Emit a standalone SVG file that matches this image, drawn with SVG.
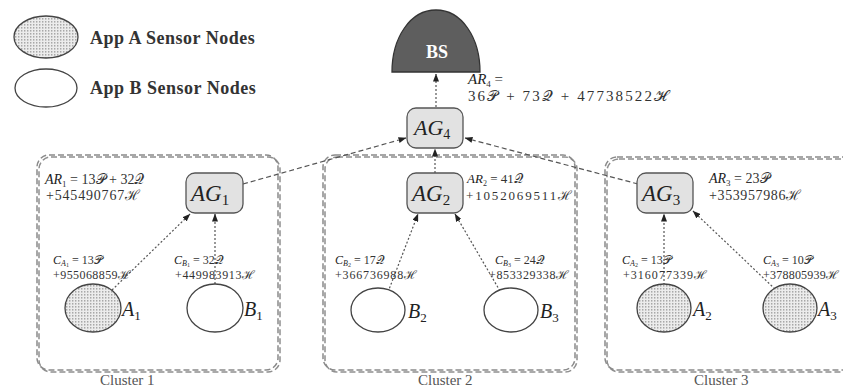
<svg xmlns="http://www.w3.org/2000/svg" width="843" height="389" viewBox="0 0 843 389">
<style>
.t{font-family:"Liberation Serif","DejaVu Serif",serif;fill:#333}
.m{font-family:"Liberation Serif","DejaVu Serif",serif;font-style:italic;fill:#222}
.s{font-style:normal}
.leg{font-family:"Liberation Serif",serif;font-weight:bold;font-size:18px;letter-spacing:0.5px;fill:#333}
.cl{font-family:"Liberation Serif",serif;font-size:15px;fill:#555}
.box{fill:none;stroke:#8a8a8a;stroke-width:1.5;stroke-dasharray:6 3}
.shadow{fill:none;stroke:#444;stroke-width:1.5;stroke-dasharray:6 3;opacity:0.6}
.ag{fill:#e2e2e2;stroke:#555;stroke-width:1.3}
.sa{fill:url(#dots);stroke:#444;stroke-width:1.3}
.sb{fill:#fff;stroke:#444;stroke-width:1.3}
.dot{fill:none;stroke:#555;stroke-width:1.2;stroke-dasharray:2 2;marker-end:url(#ah)}
.dash{fill:none;stroke:#555;stroke-width:1.2;stroke-dasharray:5 3;marker-end:url(#ah)}
</style>
<defs>
<pattern id="dots" width="3" height="3" patternUnits="userSpaceOnUse"><rect width="3" height="3" fill="#ececec"/><rect width="1.4" height="1.6" fill="#a8a8a8"/></pattern>
<marker id="ah" markerWidth="8" markerHeight="6" refX="7.5" refY="3" orient="auto" markerUnits="userSpaceOnUse"><path d="M0,0 L8,3 L0,6 z" fill="#222"/></marker>
</defs>
<rect width="843" height="389" fill="#fff"/>

<g id="legend">
<ellipse cx="46" cy="37" rx="32" ry="21" class="sa"/>
<text x="90" y="44" class="leg">App A Sensor Nodes</text>
<ellipse cx="46" cy="88" rx="31" ry="19" class="sb"/>
<text x="90" y="94" class="leg">App B Sensor Nodes</text>
</g>

<g id="cluster1">
<rect x="39" y="157" width="241" height="215" rx="12" class="shadow"/>
<rect x="37" y="155" width="241" height="215" rx="12" class="box"/>
<text x="100" y="385" class="cl">Cluster 1</text>
</g>
<g id="cluster2">
<rect x="325" y="157" width="252" height="215" rx="12" class="shadow"/>
<rect x="323" y="155" width="252" height="215" rx="12" class="box"/>
<text x="418" y="385" class="cl">Cluster 2</text>
</g>
<g id="cluster3">
<rect x="607" y="159" width="260" height="213" rx="12" class="shadow"/>
<rect x="605" y="157" width="260" height="213" rx="12" class="box"/>
<text x="694" y="385" class="cl">Cluster 3</text>
</g>

<g id="connectors">
<line x1="436" y1="107" x2="436" y2="74" class="dot"/>
<line x1="243" y1="184" x2="406" y2="138" class="dash"/>
<line x1="435" y1="173" x2="435" y2="149" class="dot"/>
<line x1="638" y1="184" x2="465" y2="138" class="dash"/>
<line x1="112" y1="290" x2="190" y2="214" class="dot"/>
<line x1="215" y1="284" x2="215" y2="214" class="dot"/>
<line x1="388" y1="292" x2="418" y2="214" class="dot"/>
<line x1="500" y1="291" x2="455" y2="214" class="dot"/>
<line x1="664" y1="285" x2="664" y2="214" class="dot"/>
<line x1="775" y1="289" x2="693" y2="211" class="dot"/>
</g>

<g id="BS">
<path d="M392,72 C392,38 410,10 436,10 C462,10 480,38 480,72 Z" fill="#5e5e5e" stroke="#333" stroke-width="1.3"/>
<text x="437" y="58" text-anchor="middle" font-family="Liberation Serif, serif" font-weight="bold" font-size="18" fill="#fff">BS</text>
</g>

<g id="AR4">
<text x="468" y="84" class="t" font-size="15"><tspan class="m">AR</tspan><tspan font-size="9" dy="3">4</tspan><tspan dy="-3"> =</tspan></text>
<text x="468" y="101" class="t" font-size="15" textLength="200">36𝒫 + 73𝒬 + 47738522ℋ</text>
</g>

<g id="AG4">
<rect x="407" y="108" width="56" height="40" rx="9" class="ag"/>
<text x="414" y="135" class="m" font-size="22">AG<tspan class="s" font-size="14" dy="4">4</tspan></text>
</g>

<g id="AR1">
<text x="45" y="184" class="t" font-size="14"><tspan class="m">AR</tspan><tspan font-size="9" dy="3">1</tspan><tspan dy="-3"> = 13𝒫 + 32𝒬</tspan></text>
<text x="46" y="200" class="t" font-size="14" textLength="94">+545490767ℋ</text>
</g>

<g id="AG1">
<rect x="186" y="173" width="57" height="40" rx="9" class="ag"/>
<text x="191" y="201" class="m" font-size="23">AG<tspan class="s" font-size="15" dy="4">1</tspan></text>
</g>

<g id="AG2">
<rect x="407" y="173" width="56" height="40" rx="9" class="ag"/>
<text x="412" y="201" class="m" font-size="23">AG<tspan class="s" font-size="15" dy="4">2</tspan></text>
</g>
<g id="AR2">
<text x="467" y="183" class="t" font-size="13"><tspan class="m">AR</tspan><tspan font-size="8" dy="3">2</tspan><tspan dy="-3"> = 41𝒬</tspan></text>
<text x="466" y="200" class="t" font-size="13" textLength="106">+1052069511ℋ</text>
</g>

<g id="AG3">
<rect x="637" y="173" width="56" height="40" rx="9" class="ag"/>
<text x="642" y="201" class="m" font-size="23">AG<tspan class="s" font-size="15" dy="4">3</tspan></text>
</g>
<g id="AR3">
<text x="709" y="183" class="t" font-size="14"><tspan class="m">AR</tspan><tspan font-size="9" dy="3">3</tspan><tspan dy="-3"> = 23𝒫</tspan></text>
<text x="709" y="200" class="t" font-size="14" textLength="92">+353957986ℋ</text>
</g>

<g id="A1">
<ellipse cx="93" cy="308" rx="28" ry="24" class="sa"/>
<text x="122" y="316" class="m" font-size="20">A<tspan class="s" font-size="13" dy="4">1</tspan></text>
</g>
<g id="CA1">
<text x="53" y="264" class="t" font-size="12"><tspan class="m">C</tspan><tspan class="m" font-size="8" dy="2">A</tspan><tspan font-size="6" dy="1">1</tspan><tspan dy="-3"> = 13𝒫</tspan></text>
<text x="53" y="279" class="t" font-size="12" textLength="78">+955068859ℋ</text>
</g>

<g id="B1">
<ellipse cx="215" cy="308" rx="28" ry="24" class="sb"/>
<text x="244" y="316" class="m" font-size="20">B<tspan class="s" font-size="13" dy="4">1</tspan></text>
</g>
<g id="CB1">
<text x="174" y="264" class="t" font-size="12"><tspan class="m">C</tspan><tspan class="m" font-size="8" dy="2">B</tspan><tspan font-size="6" dy="1">1</tspan><tspan dy="-3"> = 32𝒬</tspan></text>
<text x="175" y="279" class="t" font-size="12" textLength="80">+449983913ℋ</text>
</g>

<g id="B2">
<ellipse cx="378" cy="310" rx="27" ry="22" class="sb"/>
<text x="408" y="318" class="m" font-size="20">B<tspan class="s" font-size="13" dy="4">2</tspan></text>
</g>
<g id="CB2">
<text x="335" y="264" class="t" font-size="12"><tspan class="m">C</tspan><tspan class="m" font-size="8" dy="2">B</tspan><tspan font-size="6" dy="1">2</tspan><tspan dy="-3"> = 17𝒬</tspan></text>
<text x="335" y="279" class="t" font-size="12" textLength="82">+366736988ℋ</text>
</g>

<g id="B3">
<ellipse cx="511" cy="310" rx="27" ry="22" class="sb"/>
<text x="540" y="318" class="m" font-size="20">B<tspan class="s" font-size="13" dy="4">3</tspan></text>
</g>
<g id="CB3">
<text x="495" y="264" class="t" font-size="12"><tspan class="m">C</tspan><tspan class="m" font-size="8" dy="2">B</tspan><tspan font-size="6" dy="1">3</tspan><tspan dy="-3"> = 24𝒬</tspan></text>
<text x="489" y="279" class="t" font-size="12" textLength="80">+853329338ℋ</text>
</g>

<g id="A2">
<ellipse cx="664" cy="308" rx="27" ry="24" class="sa"/>
<text x="693" y="316" class="m" font-size="20">A<tspan class="s" font-size="13" dy="4">2</tspan></text>
</g>
<g id="CA2">
<text x="622" y="264" class="t" font-size="12"><tspan class="m">C</tspan><tspan class="m" font-size="8" dy="2">A</tspan><tspan font-size="6" dy="1">2</tspan><tspan dy="-3"> = 13𝒫</tspan></text>
<text x="623" y="279" class="t" font-size="12" textLength="84">+316077339ℋ</text>
</g>

<g id="A3">
<ellipse cx="790" cy="308" rx="27" ry="24" class="sa"/>
<text x="818" y="316" class="m" font-size="20">A<tspan class="s" font-size="13" dy="4">3</tspan></text>
</g>
<g id="CA3">
<text x="763" y="264" class="t" font-size="12"><tspan class="m">C</tspan><tspan class="m" font-size="8" dy="2">A</tspan><tspan font-size="6" dy="1">3</tspan><tspan dy="-3"> = 10𝒫</tspan></text>
<text x="763" y="279" class="t" font-size="12" textLength="76">+378805939ℋ</text>
</g>
</svg>
